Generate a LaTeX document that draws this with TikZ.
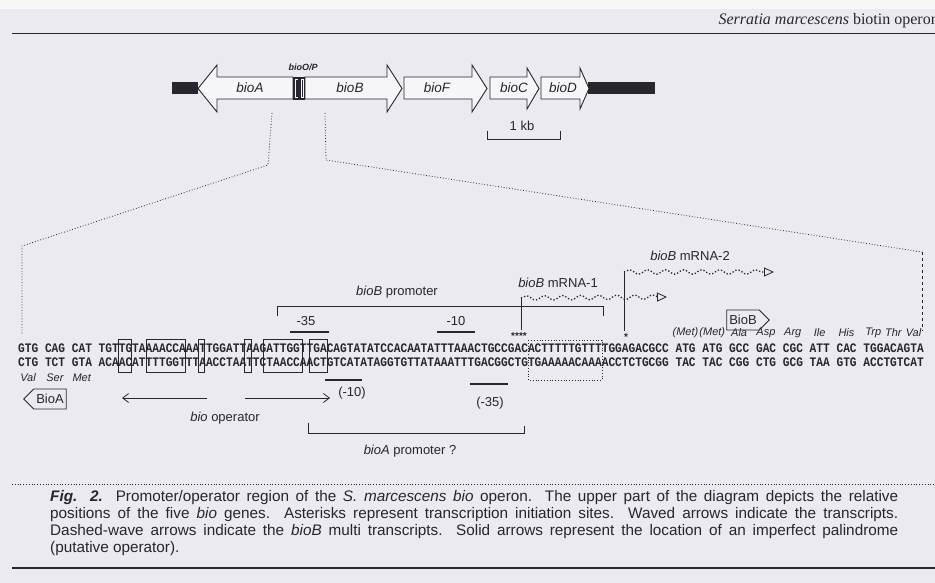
\documentclass[tikz,border=0pt]{standalone}
\usepackage{fontspec}
\setmainfont{Liberation Serif}
\setsansfont{Liberation Sans}
\newfontfamily\seqfont[FakeStretch=0.86]{Liberation Mono}
\newfontfamily\capfont{Liberation Sans}
\usepackage{tikz}
\usetikzlibrary{positioning,arrows.meta,decorations.pathmorphing,shapes.symbols}
\definecolor{pagebg}{RGB}{234,234,240}
\definecolor{ink}{RGB}{38,38,44}

\begin{document}
\begin{tikzpicture}[
		x=1pt, y=-1pt,
		every node/.style={text=ink},
		gene/.style={draw=ink, fill=white!55!pagebg, line width=0.9pt},
		flank/.style={fill=ink},
		genelabel/.style={font=\sffamily\itshape\fontsize{13.5}{13.5}\selectfont},
		seq/.style={font=\seqfont\bfseries\fontsize{13}{13}\selectfont, anchor=base west, inner sep=0pt},
		aa/.style={font=\sffamily\itshape\fontsize{11}{11}\selectfont, inner sep=0pt},
		lbl/.style={font=\sffamily\fontsize{13}{13}\selectfont, inner sep=0pt},
		seqbox/.style={draw=ink, line width=0.6pt},
		proj/.style={draw=ink, dotted, line width=0.8pt},
		bar/.style={draw=ink, line width=2.6pt},
		bracket/.style={draw=ink, line width=0.8pt},
		oparrow/.style={draw=ink, line width=0.8pt, -{Straight Barb[length=6pt, width=9pt]}},
		wave/.style={draw=ink, dotted, line width=1.3pt, decorate,
			decoration={snake, amplitude=2.2pt, segment length=18pt, post length=4pt},
			-{Triangle[open, length=10pt, width=9pt, line width=0.8pt]}},
		protein/.style={signal, draw=ink, line width=0.8pt, lbl, inner sep=2.5pt, minimum height=20pt}
		]
		
		\useasboundingbox (0,0) rectangle (935,583);
		\clip (0,0) rectangle (935,583);
		\fill[pagebg] (0,0) rectangle (935,583);
		\fill[white!60!pagebg] (0,0) rectangle (935,9);
		
		% running head
		\node[font=\fontsize{16}{16}\selectfont, anchor=base east, inner sep=0pt] (runhead)
		at (939,25) {\textit{Serratia marcescens} biotin operon};
		\draw[ink, line width=0.9pt] (12,33) -- (935,33);
		
		% gene map
		\fill[flank] (172,82.5) rectangle (198,94);
		\fill[flank] (588,82.5) rectangle (655,94.5);
		\draw[gene] (293,77) -- (217,77) -- (217,65) -- (198,88.5) -- (217,112) -- (217,99) -- (293,99) -- cycle;
		\draw[gene] (305,77) -- (387,77) -- (387,65) -- (402,88.5) -- (387,112) -- (387,99) -- (305,99) -- cycle;
		\draw[gene] (404,77) -- (472,77) -- (472,65) -- (487,88.5) -- (472,112) -- (472,99) -- (404,99) -- cycle;
		\draw[gene] (490,77) -- (527,77) -- (527,68) -- (539,88.5) -- (527,109) -- (527,99) -- (490,99) -- cycle;
		\draw[gene] (541,77) -- (580,77) -- (580,68) -- (589,88.5) -- (580,109) -- (580,99) -- (541,99) -- cycle;
		\draw[gene, line width=1.1pt] (294,78) rectangle (298.5,99);
		\draw[gene, line width=1.1pt] (300,78) rectangle (304.5,99);
		\fill[ink] (296,80) rectangle (297.5,97);
		\fill[ink] (301.5,80) rectangle (303,97);
		
		\node[genelabel] (bioA) at (250,88) {bioA};
		\node[genelabel] (bioB) at (350,88) {bioB};
		\node[genelabel] (bioF) at (437,88) {bioF};
		\node[genelabel] (bioC) at (514,88) {bioC};
		\node[genelabel] (bioD) at (563,88) {bioD};
		\node[font=\sffamily\bfseries\itshape\fontsize{9}{9}\selectfont, inner sep=0pt] (bioOP) at (303,67) {bioO/P};
		
		% scale bar
		\node[lbl] (kb) at (522,126) {1 kb};
		\draw[bracket] (487,131) -- (487,139) -- (560,139) -- (560,131);
		
		% enlargement
		\coordinate (pa1) at (272,113);
		\coordinate (pa2) at (268,165);
		\coordinate (pa3) at (22,246);
		\coordinate (pa4) at (22,334);
		\coordinate (pb1) at (325,113);
		\coordinate (pb2) at (326,160);
		\coordinate (pb3) at (922,252);
		\coordinate (pb4) at (922,331);
		\draw[proj] (pa1) -- (pa2) -- (pa3) -- (pa4);
		\draw[proj] (pb1) -- (pb2) -- (pb3);
		\draw[ink, dashed, line width=0.7pt] (pb3) -- (pb4);
		
		% transcripts
		\coordinate (tss1) at (521,330);
		\coordinate (m1) at (521,298);
		\coordinate (m1end) at (667,297);
		\coordinate (tss2) at (624,331);
		\coordinate (m2) at (624,272);
		\coordinate (m2end) at (774,272);
		\draw[ink, line width=0.9pt] (tss1) -- (m1);
		\draw[ink, line width=0.9pt] (tss2) -- (m2);
		\draw[wave] (m1) -- (m1end);
		\draw[wave] (m2) -- (m2end);
		\node[lbl] (mrna1) at (558,283) {\textit{bioB} mRNA-1};
		\node[lbl] (mrna2) at (690,256) {\textit{bioB} mRNA-2};
		\node[protein, signal to=east] (bioBp) at (743,320) {BioB};
		
		% bioB promoter
		\draw[bracket] (277,316) -- (277,306) -- (603,306) -- (603,316);
		\node[lbl] (bioBprom) at (397,292) {\textit{bioB} promoter};
		\node[lbl] (m35) at (306,321) {-35};
		\node[lbl] (m10) at (456,321) {-10};
		\draw[bar] (290,332) -- (329,332);
		\draw[bar] (437,332) -- (475,332);
		
		% sequence
		\foreach \xa/\xb in {118/131,146/185,198/204,244/251,263/302,309/327}
		\draw[seqbox] (\xa,339) rectangle (\xb,372);
		\draw[ink, dotted, line width=0.8pt] (528,340) rectangle (602,380);
		\node[font=\sffamily\bfseries\fontsize{10}{10}\selectfont, inner sep=0pt] (tssA) at (519,336) {****};
		\node[font=\sffamily\bfseries\fontsize{10}{10}\selectfont, inner sep=0pt] (tssB) at (626,337) {*};
		
		\node[seq] (topstrand) at (18,352)
		{GTG CAG CAT TGTTGTAAAACCAAATTGGATTAAGATTGGTTGACAGTATATCCACAATATTTAAACTGCCGACACTTTTTGTTTTGGAGACGCC ATG ATG GCC GAC CGC ATT CAC TGGACAGTA};
		\node[seq] (botstrand) at (18,366)
		{CTG TCT GTA ACAACATTTTGGTTTAACCTAATTCTAACCAACTGTCATATAGGTGTTATAAATTTGACGGCTGTGAAAAACAAAACCTCTGCGG TAC TAC CGG CTG GCG TAA GTG ACCTGTCAT};
		
		\foreach \aa/\i in {{(Met)}/98,{(Met)}/102,Ala/106,Asp/110,Arg/114,Ile/118,His/122,Trp/126,Thr/129,Val/132}
		\node[aa] at ({18+(\i+1.5)*6.708},333) {\aa};
		\foreach \aa/\i in {Val/0,Ser/4,Met/8}
		\node[aa] at ({18+(\i+1.5)*6.708},378) {\aa};
		
		% below the sequence
		\draw[bar] (325,380) -- (362,380);
		\draw[bar] (470,384) -- (508,384);
		\node[lbl] (m10b) at (352,393) {(-10)};
		\node[lbl] (m35b) at (490,403) {(-35)};
		\node[protein, signal to=west] (bioAp) at (50,399) {BioA};
		\draw[oparrow] (207,398) -- (122,398);
		\draw[oparrow] (245,398) -- (330,398);
		\node[lbl] (operator) at (225,418) {\textit{bio} operator};
		\draw[bracket] (308,423) -- (308,433) -- (524,433) -- (524,426);
		\node[lbl] (bioAprom) at (410,451) {\textit{bioA} promoter ?};
		
		% legend
		\draw[ink, dotted, line width=0.8pt] (12,484) -- (935,484);
		\node[font=\capfont\fontsize{15.3}{17}\selectfont, anchor=north west, inner sep=0pt,
		text width=848pt, align=justify] (caption) at (50,490)
		{\textbf{\textit{Fig. 2.}} Promoter/operator region of the \textit{S. marcescens bio} operon. The upper part of the diagram depicts the relative\linebreak
			positions of the five \textit{bio} genes. Asterisks represent transcription initiation sites. Waved arrows indicate the transcripts.\linebreak
			Dashed-wave arrows indicate the \textit{bioB} multi transcripts. Solid arrows represent the location of an imperfect palindrome\linebreak
			(putative operator).};
		\draw[ink, line width=1.3pt] (12,568) -- (935,568);
		
	\end{tikzpicture}
\end{document}
